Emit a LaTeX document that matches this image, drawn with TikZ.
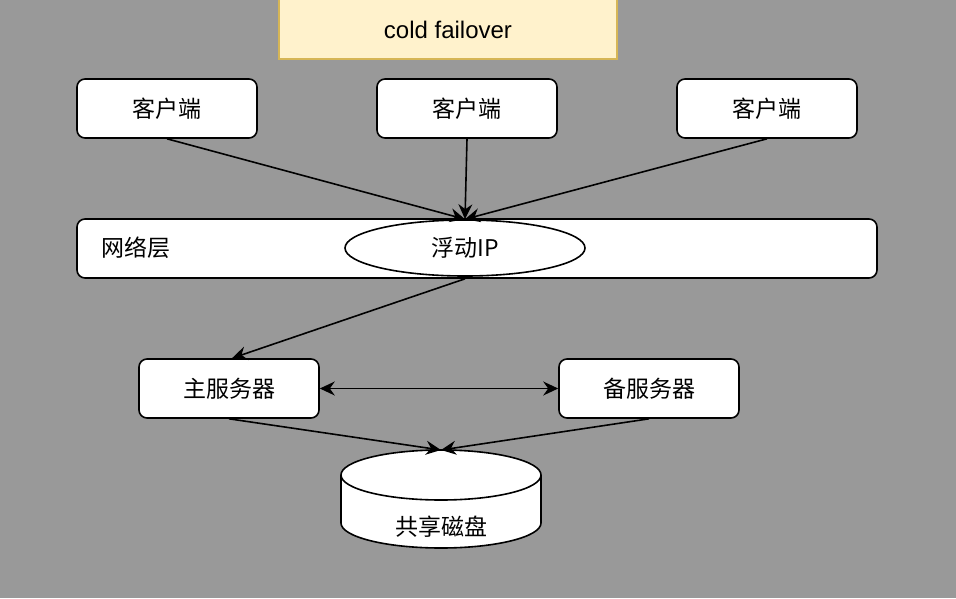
\documentclass[tikz,border=0pt]{standalone}
\usepackage{fontspec}
\setmainfont{Liberation Sans}
\newfontfamily\cjk{Noto Sans CJK SC}
\usetikzlibrary{arrows.meta,shapes.geometric}
\definecolor{bg}{HTML}{999999}
\definecolor{titlefill}{HTML}{FFF2CC}
\definecolor{titledraw}{HTML}{D6B656}
\tikzset{
  box/.style={draw=black, fill=white, line width=1.6pt, rounded corners=8pt,
    minimum width=180pt, minimum height=59pt, inner sep=0pt,
    font=\cjk\fontsize{23}{27}\selectfont},
  lbl/.style={inner sep=0pt, font=\cjk\fontsize{23}{27}\selectfont},
  tip/.style={},
  arr/.style={line width=1.6pt, -{Stealth[length=15pt,width=14pt,inset=5pt]}},
  darr/.style={line width=1.6pt, {Stealth[length=15pt,width=14pt,inset=5pt]}-{Stealth[length=15pt,width=14pt,inset=5pt]}},
}
\begin{document}
\begin{tikzpicture}[x=1pt,y=-1pt]
\useasboundingbox (0,0) rectangle (956,598);
\fill[bg] (0,0) rectangle (956,598);
% title
\node[draw=titledraw, fill=titlefill, line width=1.6pt, minimum width=338pt, minimum height=61pt,
  inner sep=0pt] (title) at (448,28.5) {};
\node[inner sep=0pt, font=\fontsize{24}{28}\selectfont] (titletext) at (448,30) {cold failover};
% clients
\node[box] (c1) at (167,108.5) {客户端};
\node[box] (c2) at (467,108.5) {客户端};
\node[box] (c3) at (767,108.5) {客户端};
% network layer
\node[box, minimum width=800pt] (net) at (477,248.5) {};
\node[lbl, anchor=west] (netlbl) at (101,248) {网络层};
\node[draw=black, fill=white, ellipse, line width=1.6pt, minimum width=240pt, minimum height=56pt,
  inner sep=0pt, font=\cjk\fontsize{23}{27}\selectfont] (ip) at (465,248) {浮动IP};
% servers
\node[box] (m) at (229,388.5) {主服务器};
\node[box] (b) at (649,388.5) {备服务器};
% shared disk cylinder
\coordinate (disktop) at (441,450);
\filldraw[fill=white, draw=black, line width=1.6pt]
  (341,475) -- (341,523) arc[start angle=180, end angle=0, x radius=100, y radius=25]
  -- (541,475) arc[start angle=0, end angle=-180, x radius=100, y radius=25] -- cycle;
\draw[line width=1.6pt] (341,475) arc[start angle=180, end angle=0, x radius=100, y radius=25];
\node[lbl] (disk) at (441,527) {共享磁盘};
% connectors
\draw[arr] (c1.south) -- (ip.north);
\draw[arr] (c2.south) -- (ip.north);
\draw[arr] (c3.south) -- (ip.north);
\draw[arr] (ip.south |- net.south) -- ([xshift=3pt]m.north);
\draw[darr] (m.east) -- (b.west);
\draw[arr] (m.south) -- (disktop);
\draw[arr] (b.south) -- (disktop);
\end{tikzpicture}
\end{document}
